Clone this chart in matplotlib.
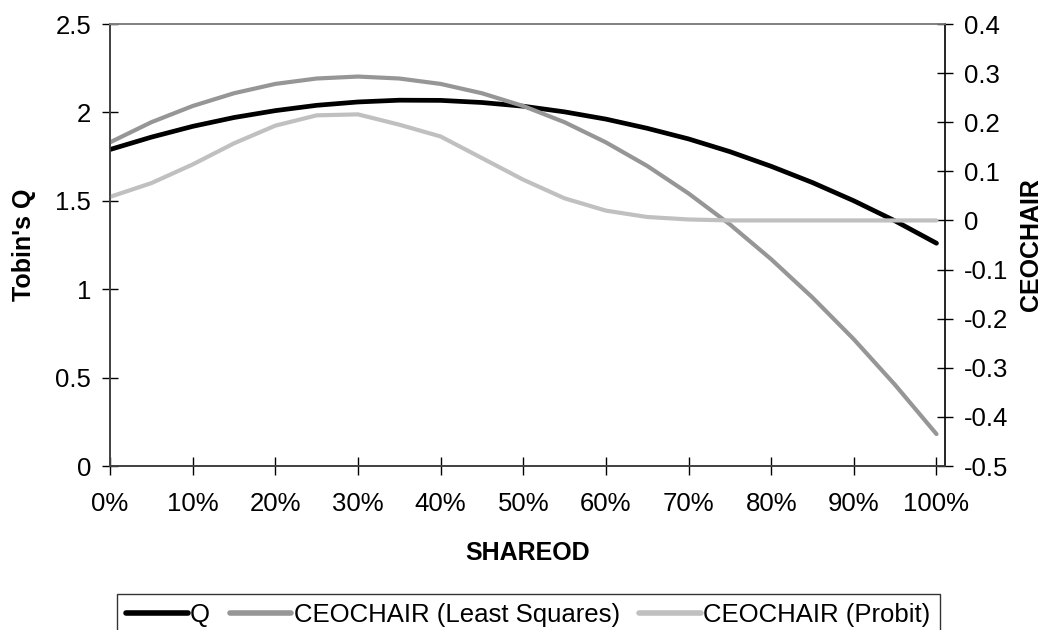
import numpy as np
import matplotlib
matplotlib.use("Agg")
import matplotlib.pyplot as plt
from matplotlib.ticker import FuncFormatter

plt.rcParams['font.family'] = ['Liberation Sans', 'DejaVu Sans']

### DATOS
shareod = [0.00, 0.05, 0.10, 0.15, 0.20, 0.25, 0.30, 0.35, 0.40, 0.45, 0.50,
           0.55, 0.60, 0.65, 0.70, 0.75, 0.80, 0.85, 0.90, 0.95, 1.00]
tobins_q = [1.790, 1.860, 1.921, 1.971, 2.010, 2.040, 2.059, 2.069, 2.068, 2.056, 2.035,
            2.003, 1.962, 1.910, 1.850, 1.778, 1.695, 1.603, 1.500, 1.386, 1.260]
ceo_ls = [0.159, 0.200, 0.233, 0.259, 0.278, 0.289, 0.293, 0.289, 0.278, 0.259, 0.233,
          0.200, 0.159, 0.111, 0.055, -0.008, -0.079, -0.157, -0.242, -0.335, -0.435]
ceo_probit = [0.048, 0.076, 0.114, 0.157, 0.193, 0.214, 0.216, 0.195, 0.171, 0.127, 0.083,
              0.045, 0.020, 0.007, 0.002, 0.000, 0.000, 0.000, 0.000, 0.000, 0.000]

left_ticks = [0, 0.5, 1, 1.5, 2, 2.5]
right_ticks = [-0.5, -0.4, -0.3, -0.2, -0.1, 0, 0.1, 0.2, 0.3, 0.4]
x_ticks = [0, 0.1, 0.2, 0.3, 0.4, 0.5, 0.6, 0.7, 0.8, 0.9, 1.0]

FS = 18.5

fig = plt.figure(figsize=(10.5, 6.3), dpi=100)
ax = fig.add_axes([110 / 1050, 1 - 466 / 630, 835 / 1050, 442 / 630])
ax2 = ax.twinx()

l1, = ax.plot(shareod, tobins_q, color="black", lw=3.4, solid_capstyle="round",
              solid_joinstyle="round", zorder=3)
l2, = ax2.plot(shareod, ceo_ls, color="#969696", lw=3.0, solid_capstyle="round",
               solid_joinstyle="round")
l3, = ax2.plot(shareod, ceo_probit, color="#c0c0c0", lw=3.0, solid_capstyle="round",
               solid_joinstyle="round")

# ejes
ax.set_xlim(0, 1.0103)
ax.set_ylim(0, 2.5)
ax2.set_ylim(-0.5, 0.4)
ax.set_xticks(x_ticks)
ax.xaxis.set_major_formatter(FuncFormatter(lambda v, p: f"{v * 100:.0f}%"))
ax.set_yticks(left_ticks)
ax.set_yticklabels(["0", "0.5", "1", "1.5", "2", "2.5"])
ax2.set_yticks(right_ticks)
ax2.set_yticklabels(["-0.5", "-0.4", "-0.3", "-0.2", "-0.1", "0", "0.1", "0.2", "0.3", "0.4"])

ax.tick_params(axis="x", direction="inout", length=13, width=1, labelsize=FS, pad=12)
ax.tick_params(axis="y", direction="inout", length=11, width=1, labelsize=FS, pad=8)
ax2.tick_params(axis="y", direction="inout", length=11, width=1, labelsize=FS, pad=8)

for a in (ax, ax2):
    a.spines["top"].set_color("#808080")
    a.spines["left"].set_color("#404040")
    a.spines["bottom"].set_color("#404040")
    a.spines["right"].set_color("black")
    for s in a.spines.values():
        s.set_linewidth(1.2)
ax.spines["right"].set_visible(False)

ax.set_xlabel("SHAREOD", fontsize=FS - 0.5, fontweight="bold", labelpad=18)
ax.set_ylabel("Tobin's Q", fontsize=FS - 0.5, fontweight="bold", labelpad=14)
ax2.set_ylabel("CEOCHAIR", fontsize=FS - 0.5, fontweight="bold", labelpad=8)

### LEYENDA
leg = fig.legend([l1, l2, l3], ["Q", "CEOCHAIR (Least Squares)", "CEOCHAIR (Probit)"],
                 loc="upper left", bbox_to_anchor=(117 / 1050, 1 - 594 / 630),
                 ncol=3, fontsize=FS, frameon=True, fancybox=False,
                 handlelength=2.4, handletextpad=0.1, columnspacing=0.75,
                 borderpad=0.35, borderaxespad=0)
leg.get_frame().set_edgecolor("black")
leg.get_frame().set_linewidth(1.0)
for h in leg.legend_handles:
    h.set_linewidth(4)

fig.savefig("out.png", dpi=100)
plt.close()
